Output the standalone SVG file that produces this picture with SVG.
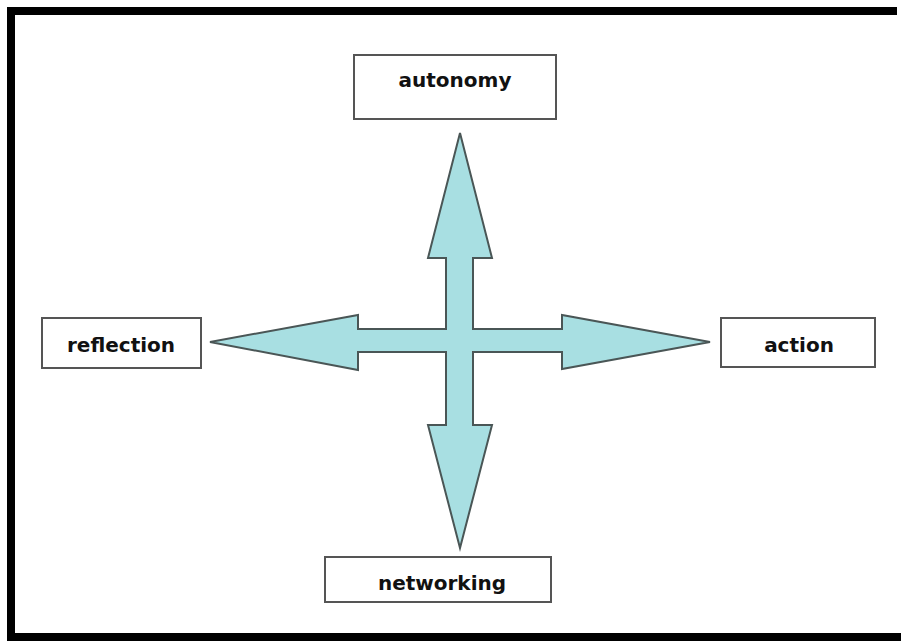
<svg xmlns="http://www.w3.org/2000/svg" width="901" height="641" viewBox="0 0 901 641">
  <style>
    .box { fill: #ffffff; stroke: #555555; stroke-width: 2; }
    .label { font-family: "DejaVu Sans", Verdana, sans-serif; font-weight: bold; font-size: 20px; fill: #111111; text-anchor: middle; }
    .cross { fill: #a8dfe2; stroke: #4a5656; stroke-width: 2; stroke-linejoin: miter; }
  </style>
  <rect x="0" y="0" width="901" height="641" fill="#ffffff"/>
  <!-- outer frame -->
  <g id="frame" fill="#000000">
    <rect x="7" y="7" width="890" height="8"/>
    <rect x="7" y="7" width="8" height="634"/>
    <rect x="7" y="633" width="894" height="8"/>
  </g>
  <!-- four-way arrow -->
  <g id="connectors">
    <polygon class="cross" points="460,133 492,258 473,258 473,329 562,329 562,315 710,342 562,369 562,352 473,352 473,425 492,425 460,548 428,425 446,425 446,352 358,352 358,370 210,342 358,315 358,329 446,329 446,258 428,258"/>
  </g>
  <g id="autonomy">
    <rect class="box" x="354" y="55" width="202" height="64"/>
    <text class="label" x="455" y="87">autonomy</text>
  </g>
  <g id="reflection">
    <rect class="box" x="42" y="318" width="159" height="50"/>
    <text class="label" x="121" y="352">reflection</text>
  </g>
  <g id="action">
    <rect class="box" x="721" y="318" width="154" height="49"/>
    <text class="label" x="799" y="352">action</text>
  </g>
  <g id="networking">
    <rect class="box" x="325" y="557" width="226" height="45"/>
    <text class="label" x="442" y="590">networking</text>
  </g>
</svg>
